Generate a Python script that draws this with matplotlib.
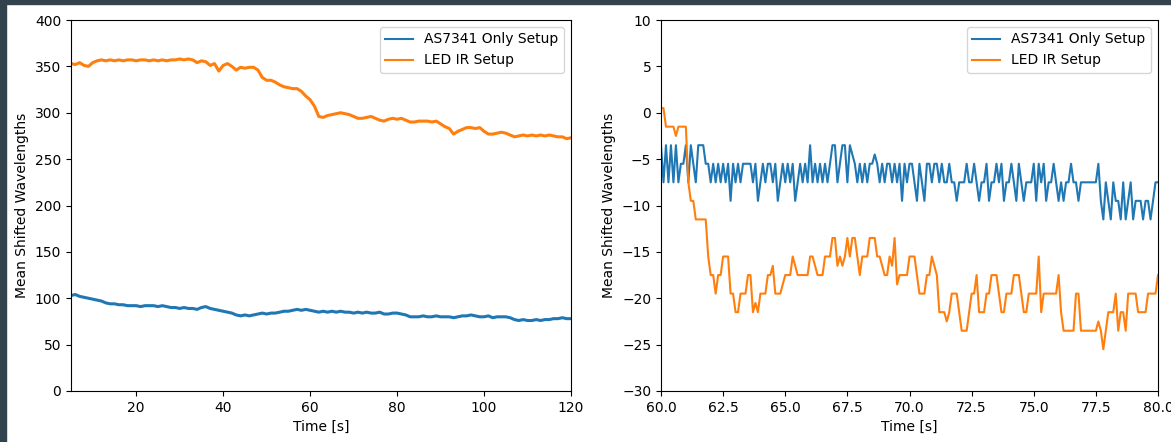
import numpy as np
import matplotlib
matplotlib.use('Agg')
import matplotlib.pyplot as plt
from matplotlib.patches import Rectangle

# Full run, one sample per second (5 s .. 120 s)
t_full = np.arange(5, 121, 1)
as7341_full = [
    103, 104, 102, 101, 100, 99, 98, 97, 95, 94, 94, 93, 93, 92, 92, 92, 91, 92, 92, 92,
    91, 92, 91, 90, 90, 89, 90, 89, 89, 88, 90, 91, 89, 88, 87, 86, 85, 84, 82, 81,
    82, 81, 82, 83, 84, 83, 84, 84, 85, 86, 86, 87, 88, 87, 88, 87, 86, 85, 86, 85,
    86, 85, 86, 85, 85, 84, 85, 84, 85, 84, 84, 85, 83, 83, 84, 84, 83, 82, 80, 80,
    80, 81, 80, 80, 81, 80, 80, 80, 79, 80, 81, 81, 82, 81, 80, 80, 81, 79, 80, 80,
    80, 79, 77, 76, 77, 76, 76, 77, 76, 77, 77, 78, 78, 79, 78, 78,
]
ledir_full = [
    353, 352, 354, 351, 350, 354, 356, 357, 356, 357, 356, 357, 356, 357, 357, 356, 357, 357, 356, 357,
    356, 357, 356, 357, 357, 358, 357, 358, 357, 354, 356, 355, 351, 353, 345, 351, 353, 350, 346, 349,
    348, 349, 349, 346, 338, 335, 335, 333, 330, 328, 327, 326, 326, 323, 318, 314, 307, 296, 295, 297,
    298, 299, 300, 299, 298, 296, 294, 294, 295, 296, 294, 292, 291, 293, 294, 293, 294, 292, 290, 290,
    291, 291, 291, 290, 291, 288, 285, 283, 277, 280, 282, 284, 284, 283, 284, 280, 277, 277, 278, 279,
    278, 276, 274, 275, 276, 275, 276, 275, 276, 275, 276, 275, 274, 274, 272, 273,
]

# Zoomed window 60 s .. 80 s, one sample every 0.1 s
t_zoom = np.linspace(60, 80, 201)
as7341_zoom = [
    -3.5, -7.5, -3.5, -7.5, -3.5, -7.5, -3.5, -7.5, -5.5, -5.5,
    -3.5, -7.5, -3.5, -5.5, -7.5, -3.5, -3.5, -3.5, -5.5, -5.5,
    -7.5, -5.5, -7.5, -5.5, -7.5, -5.5, -7.5, -5.5, -9.5, -5.5,
    -7.5, -5.5, -7.5, -5.5, -5.5, -5.5, -5.5, -7.5, -5.5, -9.5,
    -7.5, -5.5, -7.5, -5.5, -5.5, -7.5, -5.5, -9.5, -7.5, -5.5,
    -7.5, -5.5, -7.5, -5.5, -9.5, -7.5, -5.5, -7.5, -5.5, -7.5,
    -3.5, -7.5, -5.5, -7.5, -5.5, -7.5, -5.5, -7.5, -5.5, -3.5,
    -3.5, -7.5, -5.5, -3.5, -3.5, -7.5, -3.5, -4.5, -5.5, -7.5,
    -5.5, -7.5, -5.5, -7.5, -5.5, -5.5, -4.5, -5.5, -7.5, -5.5,
    -7.5, -5.5, -5.5, -7.5, -5.5, -7.5, -5.5, -9.5, -5.5, -7.5,
    -5.5, -5.5, -7.5, -9.5, -5.5, -7.5, -9.5, -5.5, -5.5, -7.5,
    -5.5, -5.5, -7.5, -5.5, -7.5, -7.5, -5.5, -7.5, -7.5, -9.5,
    -7.5, -7.5, -7.5, -5.5, -7.5, -7.5, -5.5, -7.5, -9.5, -7.5,
    -7.5, -5.5, -9.5, -7.5, -7.5, -5.5, -7.5, -5.5, -9.5, -7.5,
    -7.5, -5.5, -7.5, -9.5, -5.5, -7.5, -9.5, -7.5, -7.5, -7.5,
    -5.5, -9.5, -5.5, -7.5, -5.5, -9.5, -7.5, -7.5, -5.5, -7.5,
    -9.5, -7.5, -9.5, -7.5, -7.5, -5.5, -7.5, -7.5, -9.5, -7.5,
    -7.5, -7.5, -7.5, -7.5, -7.5, -7.5, -5.5, -9.5, -11.5, -7.5,
    -9.5, -11.5, -7.5, -9.5, -9.5, -11.5, -7.5, -11.5, -9.5, -7.5,
    -11.5, -9.5, -9.5, -9.5, -11.5, -9.5, -9.5, -11.5, -9.5, -7.5,
    -7.5,
]
ledir_zoom = [
    0.5, 0.5, -1.5, -1.5, -1.5, -1.5, -2.5, -1.5, -1.5, -1.5,
    -1.5, -7.5, -9.5, -9.5, -11.5, -11.5, -11.5, -11.5, -11.5, -15.5,
    -17.5, -17.5, -19.5, -17.5, -17.5, -15.5, -15.5, -15.5, -19.5, -19.5,
    -21.5, -21.5, -19.5, -19.5, -19.5, -17.5, -17.5, -21.5, -20.5, -21.5,
    -19.5, -19.5, -19.5, -17.5, -17.5, -16.5, -19.5, -19.5, -19.5, -18.5,
    -17.5, -17.5, -17.5, -15.5, -16.5, -17.5, -17.5, -17.5, -17.5, -17.5,
    -15.5, -15.5, -16.5, -17.5, -17.5, -17.5, -15.5, -15.5, -15.5, -13.5,
    -13.5, -16.5, -15.5, -16.5, -15.5, -13.5, -15.5, -13.5, -13.5, -15.5,
    -17.5, -15.5, -15.5, -15.5, -13.5, -13.5, -13.5, -15.5, -15.5, -16.5,
    -17.5, -17.5, -15.5, -16.5, -13.5, -18.5, -17.5, -17.5, -17.5, -17.5,
    -15.5, -15.5, -15.5, -17.5, -19.5, -19.5, -19.5, -17.5, -17.5, -15.5,
    -16.5, -17.5, -21.5, -21.5, -21.5, -22.5, -21.5, -19.5, -19.5, -19.5,
    -21.5, -23.5, -23.5, -23.5, -21.5, -19.5, -19.5, -17.5, -21.5, -21.5,
    -21.5, -19.5, -19.5, -17.5, -17.5, -17.5, -19.5, -21.5, -21.5, -19.5,
    -19.5, -19.5, -17.5, -17.5, -17.5, -19.5, -21.5, -21.5, -19.5, -19.5,
    -19.5, -19.5, -15.5, -21.5, -19.5, -19.5, -19.5, -19.5, -19.5, -19.5,
    -17.5, -21.5, -23.5, -23.5, -23.5, -23.5, -23.5, -19.5, -19.5, -23.5,
    -23.5, -23.5, -23.5, -23.5, -23.5, -23.5, -22.5, -23.5, -25.5, -23.5,
    -21.5, -21.5, -21.5, -19.5, -23.5, -21.5, -21.5, -23.5, -19.5, -19.5,
    -19.5, -19.5, -21.5, -21.5, -21.5, -21.5, -19.5, -19.5, -19.5, -19.5,
    -17.5,
]

fig = plt.figure(figsize=(11.71, 4.42), dpi=100)

# Lewy wykres - cały pomiar
ax1 = fig.add_axes([71 / 1171, 51 / 442, 500 / 1171, 371 / 442])
ax1.plot(t_full, as7341_full, label='AS7341 Only Setup', linewidth=2.2)
ax1.plot(t_full, ledir_full, label='LED IR Setup', linewidth=2.2)
ax1.set_xlim(5, 120)
ax1.set_ylim(0, 400)
ax1.set_xlabel('Time [s]')
ax1.set_ylabel('Mean Shifted Wavelengths')
leg1 = ax1.legend(loc='upper right')
for line in leg1.get_lines():
    line.set_linewidth(1.5)

# Prawy wykres - przybliżenie 60-80 s
ax2 = fig.add_axes([661 / 1171, 51 / 442, 497 / 1171, 371 / 442])
ax2.plot(t_zoom, as7341_zoom, label='AS7341 Only Setup')
ax2.plot(t_zoom, ledir_zoom, label='LED IR Setup')
ax2.set_xlim(60, 80)
ax2.set_ylim(-30, 10)
ax2.set_xlabel('Time [s]')
ax2.set_ylabel('Mean Shifted Wavelengths')
ax2.legend(loc='upper right')

# ciemna ramka zrzutu ekranu (góra i lewa krawędź)
fig.patches.append(Rectangle((0, 1 - 4 / 442), 1, 4 / 442, transform=fig.transFigure,
                             color='#33434d', zorder=10))
fig.patches.append(Rectangle((0, 0), 6 / 1171, 1, transform=fig.transFigure,
                             color='#33434d', zorder=10))

fig.savefig('out.png', dpi=100)
